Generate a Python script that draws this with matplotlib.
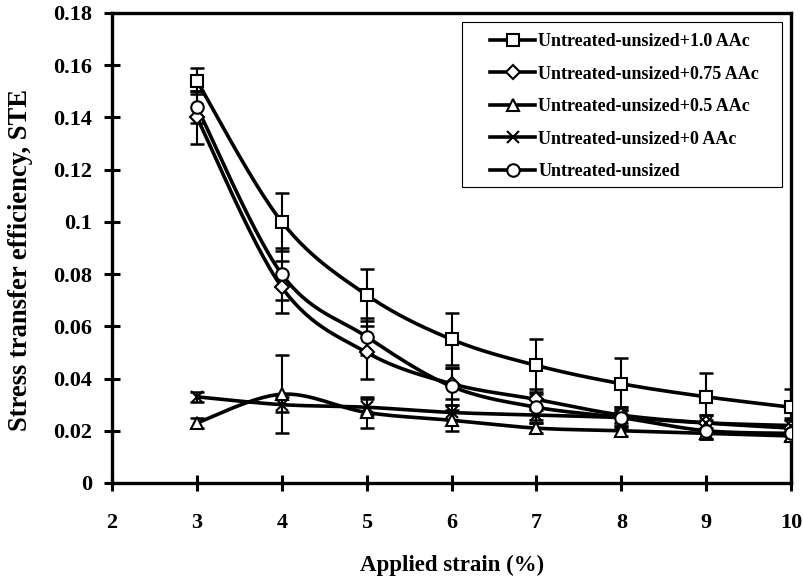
import numpy as np
import matplotlib
matplotlib.use("Agg")
import matplotlib.pyplot as plt
from matplotlib.patches import Rectangle

plt.rcParams['font.family'] = ['Liberation Serif', 'DejaVu Serif']
plt.rcParams['font.weight'] = 'bold'

# data
strain = [3, 4, 5, 6, 7, 8, 9, 10]

labels = ["Untreated-unsized+1.0 AAc", "Untreated-unsized+0.75 AAc",
          "Untreated-unsized+0.5 AAc", "Untreated-unsized+0 AAc",
          "Untreated-unsized"]
markers = ["s", "D", "^", "x", "o"]

ste_10 = [0.154, 0.100, 0.072, 0.055, 0.045, 0.038, 0.033, 0.029]
ste_075 = [0.140, 0.075, 0.050, 0.038, 0.032, 0.026, 0.023, 0.021]
ste_05 = [0.023, 0.034, 0.027, 0.024, 0.021, 0.020, 0.019, 0.018]
ste_0 = [0.033, 0.030, 0.029, 0.027, 0.026, 0.025, 0.023, 0.022]
ste_un = [0.144, 0.080, 0.056, 0.037, 0.029, 0.025, 0.020, 0.019]

err_10 = [0.005, 0.011, 0.010, 0.010, 0.010, 0.010, 0.009, 0.007]
err_075 = [0.010, 0.010, 0.010, 0.006, 0.004, 0.003, 0.003, 0.003]
err_05 = [0.002, 0.015, 0.006, 0.004, 0.002, 0.002, 0.002, 0.002]
err_0 = [0.002, 0.003, 0.003, 0.003, 0.003, 0.003, 0.003, 0.003]
err_un = [0.006, 0.010, 0.007, 0.007, 0.005, 0.004, 0.003, 0.003]

series = [ste_10, ste_075, ste_05, ste_0, ste_un]
errors = [err_10, err_075, err_05, err_0, err_un]


def smooth(x, y, n=30):
    # Excel-style smoothed line: cubic Bezier through the points
    x = np.asarray(x, float)
    y = np.asarray(y, float)
    p = np.column_stack([x, y])
    out = []
    t = np.linspace(0, 1, n)[:, None]
    for i in range(len(p) - 1):
        p0 = p[i - 1] if i > 0 else p[i]
        p3 = p[i + 2] if i + 2 < len(p) else p[i + 1]
        c1 = p[i] + (p[i + 1] - p0) / 6
        c2 = p[i + 1] - (p3 - p[i]) / 6
        seg = ((1 - t) ** 3 * p[i] + 3 * (1 - t) ** 2 * t * c1
               + 3 * (1 - t) * t ** 2 * c2 + t ** 3 * p[i + 1])
        out.append(seg)
    out = np.vstack(out)
    return out[:, 0], out[:, 1]


fig = plt.figure(figsize=(8.04, 5.76), dpi=100)
ax = fig.add_axes([0.1393, 0.1615, 0.8447, 0.816])

for y, e, m, lab in zip(series, errors, markers, labels):
    ax.errorbar(strain, y, yerr=e, fmt='none', ecolor='black',
                elinewidth=1.5, capsize=5, capthick=1.8, zorder=2)
    sx, sy = smooth(strain, y)
    ax.plot(sx, sy, color='black', lw=2.6, zorder=3)
    ms = 7 if m == 'D' else 9
    ax.plot(strain, y, linestyle='none', marker=m, ms=ms, mfc='white',
            mec='black', mew=1.5, zorder=4)
    ax.plot([], [], color='black', lw=2.6, marker=m, ms=ms, mfc='white',
            mec='black', mew=1.5, label=lab)

ax.set_xlim(2, 10)
ax.set_ylim(0, 0.18)
ax.set_xticks(range(2, 11))
ax.set_yticks(np.arange(0, 0.181, 0.02))
ax.set_yticklabels(["0", "0.02", "0.04", "0.06", "0.08", "0.1", "0.12",
                    "0.14", "0.16", "0.18"])
ax.tick_params(direction='inout', length=11, width=2.2, labelsize=16)
ax.tick_params(axis='y', pad=9)
ax.tick_params(axis='x', pad=16)
for s in ax.spines.values():
    s.set_linewidth(2.4)

ax.set_xlabel("Applied strain (%)", fontsize=16.5, fontweight='bold')
ax.set_ylabel("Stress transfer efficiency, STE", fontsize=19.2,
              fontweight='bold')
ax.xaxis.set_label_coords(0.5, -0.152)
ax.yaxis.set_label_coords(-0.116, 0.475)

# legend frame drawn separately (wider side padding than legend allows)
ax.add_patch(Rectangle((0.5155, 0.6298), 0.4712, 0.3511,
                       transform=ax.transAxes, fill=True, fc='white',
                       ec='black', lw=0.8, zorder=5))
leg = ax.legend(loc='upper left', bbox_to_anchor=(0.5567, 0.957),
                fontsize=13, frameon=False, handlelength=2.5,
                labelspacing=0.86, borderpad=0, borderaxespad=0,
                handletextpad=0.17)
leg.set_zorder(6)

fig.savefig("out.png", dpi=100)
